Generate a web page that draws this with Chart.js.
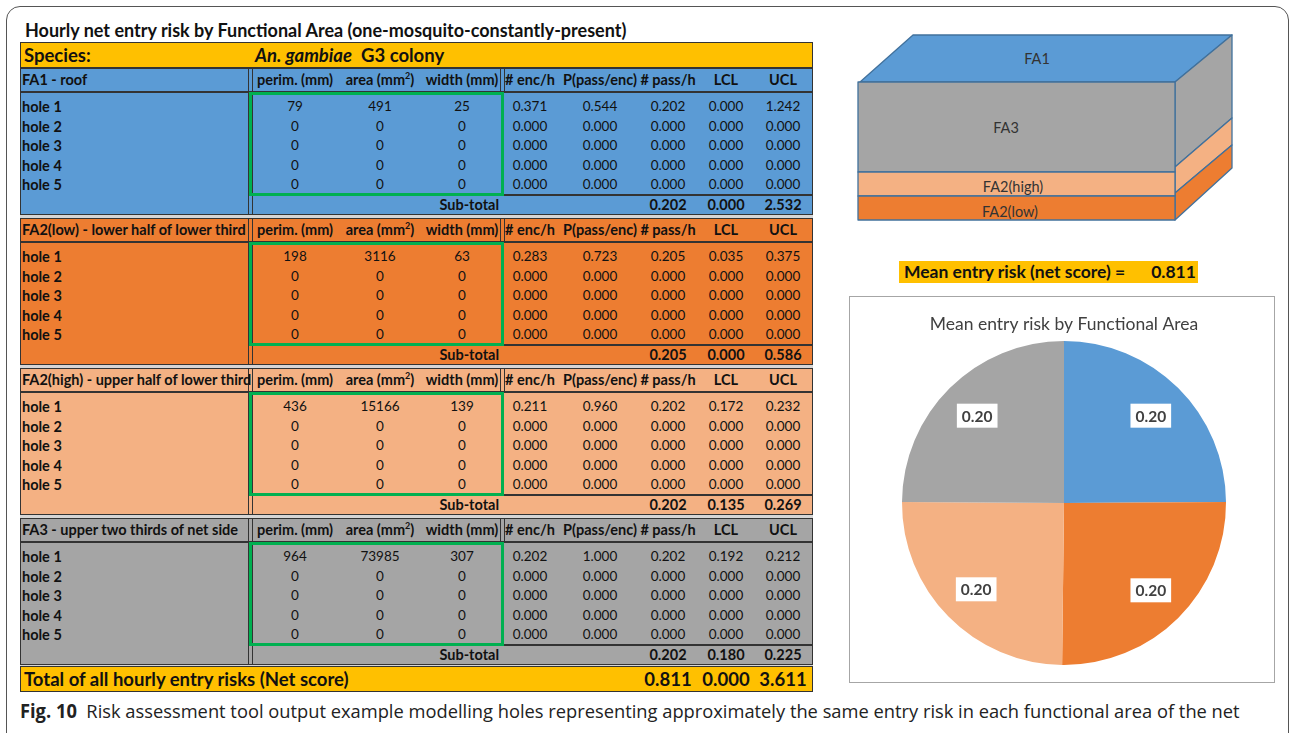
<!DOCTYPE html>
<html>
<head>
<meta charset="utf-8">
<script src="https://cdn.jsdelivr.net/npm/chart.js@4.4.0/dist/chart.umd.min.js"></script>
<style>
  body { margin: 0; background: #fff; width: 1290px; height: 733px; overflow: hidden; position: relative; font-family: Lato, "Open Sans", sans-serif; color: #111; }
  .abs { position: absolute; white-space: nowrap; }
  #frame { position: absolute; left: 6px; top: 6px; width: 1283px; height: 750px; border: 1.5px solid #555; border-radius: 14px; box-sizing: border-box; }
  #title { left: 25px; top: 19px; font-weight: bold; font-size: 18px; line-height: 22px; }
  #caption { left: 20px; top: 699px; font-size: 19px; line-height: 24px; font-family: "Liberation Sans Narrow", "Open Sans", sans-serif; transform-origin: 0 50%; color: #222; }
  #caption b { font-family: "Open Sans", sans-serif; font-weight: bold; }
  #meanBox { left: 899px; top: 261px; width: 299px; height: 22px; background: #FFC000; font-weight: bold; font-size: 17.5px; line-height: 22px; }
  #pieBox { position: absolute; left: 849px; top: 296px; width: 426px; height: 387px; border: 1px solid #a6a6a6; box-sizing: border-box; }
  sup { font-size: 9px; vertical-align: 6px; line-height: 0; }
</style>
</head>
<body>
<div id="frame"></div>
<div id="title" class="abs">Hourly net entry risk by Functional Area (one-mosquito-constantly-present)</div>
<div id="tbl"></div>

<svg class="abs" style="left:0;top:0" width="1290" height="240">
  <g stroke="#41719C" stroke-width="1.3" stroke-linejoin="round">
    <polygon points="860,82 1175,82 1232,35 913,35" fill="#5B9BD5"/>
    <polygon points="1175,82 1232,35 1232,118 1175,167" fill="#A5A5A5"/>
    <polygon points="1175,167 1232,118 1232,145 1175,193" fill="#F4B183"/>
    <polygon points="1175,193 1232,145 1232,168 1175,220" fill="#ED7D31"/>
    <rect x="858" y="82" width="317" height="90" fill="#A5A5A5"/>
    <rect x="858" y="172" width="317" height="24" fill="#F4B183"/>
    <rect x="858" y="196" width="317" height="24" fill="#ED7D31"/>
  </g>
  <g font-family="Lato, sans-serif" font-size="14.5" fill="#333" text-anchor="middle" dominant-baseline="central">
    <text x="1037" y="58">FA1</text>
    <text x="1006" y="127">FA3</text>
    <text x="1013" y="186">FA2(high)</text>
    <text x="1010" y="211">FA2(low)</text>
  </g>
</svg>

<div id="meanBox" class="abs"><span style="margin-left:5px">Mean entry risk (net score) =</span><span style="margin-left:26px">0.811</span></div>
<div id="pieBox"><canvas id="pie"></canvas></div>
<div id="caption" class="abs"><b>Fig. 10</b>&nbsp; Risk assessment tool output example modelling holes representing approximately the same entry risk in each functional area of the net</div>

<script>
// ---- table data ----
const speciesName = "An. gambiae";
const colonyName = "G3 colony";
const areaTitles = ["FA1 - roof", "FA2(low) - lower half of lower third", "FA2(high) - upper half of lower third", "FA3 - upper two thirds of net side"];
const holeNames = ["hole 1", "hole 2", "hole 3", "hole 4", "hole 5"];
const colHeads = ["perim. (mm)", "area (mm<sup>2</sup>)", "width (mm)", "# enc/h", "P(pass/enc)", "# pass/h", "LCL", "UCL"];

// one row per area, one value per hole
const perimMM = [[79, 0, 0, 0, 0], [198, 0, 0, 0, 0], [436, 0, 0, 0, 0], [964, 0, 0, 0, 0]];
const areaMM2 = [[491, 0, 0, 0, 0], [3116, 0, 0, 0, 0], [15166, 0, 0, 0, 0], [73985, 0, 0, 0, 0]];
const widthMM = [[25, 0, 0, 0, 0], [63, 0, 0, 0, 0], [139, 0, 0, 0, 0], [307, 0, 0, 0, 0]];
const encPerH = [[0.371, 0, 0, 0, 0], [0.283, 0, 0, 0, 0], [0.211, 0, 0, 0, 0], [0.202, 0, 0, 0, 0]];
const passPerEnc = [[0.544, 0, 0, 0, 0], [0.723, 0, 0, 0, 0], [0.960, 0, 0, 0, 0], [1.000, 0, 0, 0, 0]];
const passPerH = [[0.202, 0, 0, 0, 0], [0.205, 0, 0, 0, 0], [0.202, 0, 0, 0, 0], [0.202, 0, 0, 0, 0]];
const holeLCL = [[0.000, 0, 0, 0, 0], [0.035, 0, 0, 0, 0], [0.172, 0, 0, 0, 0], [0.192, 0, 0, 0, 0]];
const holeUCL = [[1.242, 0, 0, 0, 0], [0.375, 0, 0, 0, 0], [0.232, 0, 0, 0, 0], [0.212, 0, 0, 0, 0]];

const subPassH = [0.202, 0.205, 0.202, 0.202];
const subLCL = [0.000, 0.000, 0.135, 0.180];
const subUCL = [2.532, 0.586, 0.269, 0.225];
const netScore = [0.811, 0.000, 3.611];

// ---- pie data ----
const pieLabels = ["FA1", "FA2(low)", "FA2(high)", "FA3"];
const pieValues = [0.202, 0.205, 0.202, 0.202];

// ---- styles / layout ----
const areaColors = ["#5B9BD5", "#ED7D31", "#F4B183", "#A5A5A5"];
const colX = [295, 380, 462, 530, 600, 668, 726, 783];
const lineCol = "#333";

const tbl = document.getElementById("tbl");

function box(left, top, width, height, css) {
    const d = document.createElement("div");
    d.className = "abs";
    d.style.cssText = `left:${left}px;top:${top}px;width:${width}px;height:${height}px;box-sizing:border-box;` + (css || "");
    tbl.appendChild(d);
    return d;
}

// x is the left edge (left), the right edge (right) or the centre
function text(html, x, top, h, css, align) {
    align = align || "center";
    const left = align === "left" ? x : align === "right" ? x - 300 : x - 60;
    const width = align === "center" ? 120 : 300;
    const d = box(left, top, width, h,
        `line-height:${h}px;text-align:${align};font-size:13.5px;` + (css || ""));
    d.innerHTML = html;
    return d;
}

const boldHead = "font-weight:bold;font-size:14.5px;";

// grey backing so gaps between sections show
box(20, 68, 793, 598, "background:#d6d6d6;");

// species row
box(20, 42, 793, 26, `background:#FFC000;border:1.5px solid ${lineCol};`);
text("Species:", 24, 42, 26, "font-weight:bold;font-size:18.5px;", "left");
text(`<i>${speciesName}</i>&nbsp; ${colonyName}`, 255, 42, 26, "font-weight:bold;font-size:18.5px;", "left");

areaTitles.forEach((title, a) => {
    const T = 68 + a * 150;
    box(20, T, 793, 147, `background:${areaColors[a]};border:1.5px solid ${lineCol};`);
    box(20, T + 23, 793, 1.5, `background:${lineCol};`);
    box(248, T, 5, 147, `border-left:1.2px solid ${lineCol};border-right:1.2px solid ${lineCol};`);
    box(500, T, 5, 24, `border-left:1.2px solid ${lineCol};border-right:1.2px solid ${lineCol};`);
    box(250, T + 126, 563, 1.5, `background:${lineCol};`);
    box(249, T + 24, 255, 103.5, "border:3px solid #00B050;");

    text(title, 22, T, 24, boldHead, "left");
    colHeads.forEach((h, c) => text(h, colX[c], T, 24, boldHead));

    holeNames.forEach((name, r) => {
        const y = T + 29 + r * 19.6;
        text(name, 22, y, 19.6, boldHead, "left");
        const vals = [perimMM[a][r], areaMM2[a][r], widthMM[a][r],
            encPerH[a][r].toFixed(3), passPerEnc[a][r].toFixed(3), passPerH[a][r].toFixed(3),
            holeLCL[a][r].toFixed(3), holeUCL[a][r].toFixed(3)];
        vals.forEach((v, c) => text(String(v), colX[c], y, 19.6));
    });

    text("Sub-total", 499, T + 126, 21, boldHead, "right");
    [subPassH[a], subLCL[a], subUCL[a]].forEach((v, k) =>
        text(v.toFixed(3), colX[5 + k], T + 126, 21, boldHead));
});

// total row
box(20, 666, 793, 26, `background:#FFC000;border:1.5px solid ${lineCol};`);
text("Total of all hourly entry risks (Net score)", 24, 666, 26, "font-weight:bold;font-size:18.5px;", "left");
netScore.forEach((v, k) => text(v.toFixed(3), colX[5 + k], 666, 26, "font-weight:bold;font-size:18.5px;"));

// fit caption to its width
const cap = document.getElementById("caption");
cap.style.transform = `scaleX(${1220 / cap.scrollWidth})`;

// ---- pie ----
const sliceLabels = {
    id: "sliceLabels",
    afterDatasetsDraw(chart) {
        const ctx = chart.ctx;
        const data = chart.data.datasets[0].data;
        chart.getDatasetMeta(0).data.forEach((arc, i) => {
            const p = arc.getProps(["x", "y", "startAngle", "endAngle", "outerRadius"], true);
            const mid = (p.startAngle + p.endAngle) / 2;
            const r = p.outerRadius * 0.76;
            const x = p.x + Math.cos(mid) * r;
            const y = p.y + Math.sin(mid) * r;
            const label = data[i].toFixed(2);
            ctx.save();
            ctx.font = "bold 15.5px Lato";
            const w = ctx.measureText(label).width + 10;
            ctx.fillStyle = "#fff";
            ctx.fillRect(x - w / 2, y - 12, w, 24);
            ctx.fillStyle = "#404040";
            ctx.textAlign = "center";
            ctx.textBaseline = "middle";
            ctx.fillText(label, x, y + 1);
            ctx.restore();
        });
    }
};

new Chart(document.getElementById("pie"), {
    type: "pie",
    data: {
        labels: pieLabels,
        datasets: [{
            data: pieValues,
            backgroundColor: areaColors,
            borderWidth: 0
        }]
    },
    options: {
        responsive: true,
        maintainAspectRatio: false,
        animation: false,
        layout: { padding: { left: 4, bottom: 17 } },
        plugins: {
            legend: { display: false },
            tooltip: { enabled: false },
            title: {
                display: true,
                text: "Mean entry risk by Functional Area",
                color: "#404040",
                font: { family: "Lato", size: 17.5, weight: "normal" },
                padding: { top: 17, bottom: 6 }
            }
        }
    },
    plugins: [sliceLabels]
});
</script>
</body>
</html>
